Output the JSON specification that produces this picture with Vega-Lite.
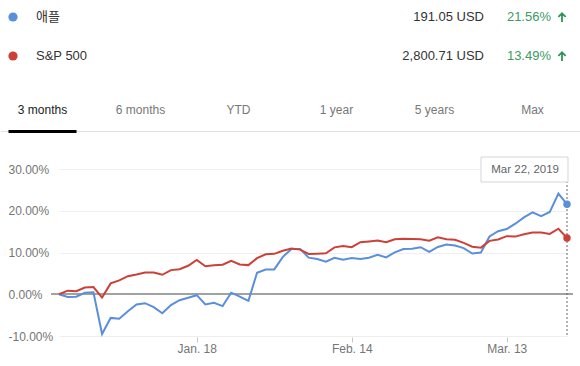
{
  "$schema": "https://vega.github.io/schema/vega-lite/v6.json",
  "background": "white",
  "padding": {"left": 0, "top": 0, "right": 0, "bottom": 0},
  "config": {"view": {"stroke": null}, "font": "Liberation Sans"},
  "spacing": 22,
  "datasets": {
    "header": [
      {"sym": "aapl", "name": "애플", "price": "191.05 USD", "change": "21.56%"},
      {"sym": "spx", "name": "S&P 500", "price": "2,800.71 USD", "change": "13.49%"}
    ],
    "tabs": [
      {"tab": "3 months", "sel": true},
      {"tab": "6 months", "sel": false},
      {"tab": "YTD", "sel": false},
      {"tab": "1 year", "sel": false},
      {"tab": "5 years", "sel": false},
      {"tab": "Max", "sel": false}
    ],
    "prices": [
      {"date": "2018-12-26", "aapl": 0, "spx": 0},
      {"date": "2018-12-27", "aapl": -0.65, "spx": 0.86},
      {"date": "2018-12-28", "aapl": -0.60, "spx": 0.73},
      {"date": "2018-12-31", "aapl": 0.36, "spx": 1.59},
      {"date": "2019-01-02", "aapl": 0.48, "spx": 1.72},
      {"date": "2019-01-03", "aapl": -9.53, "spx": -0.80},
      {"date": "2019-01-04", "aapl": -5.67, "spx": 2.60},
      {"date": "2019-01-07", "aapl": -5.88, "spx": 3.32},
      {"date": "2019-01-08", "aapl": -4.08, "spx": 4.32},
      {"date": "2019-01-09", "aapl": -2.46, "spx": 4.75},
      {"date": "2019-01-10", "aapl": -2.14, "spx": 5.23},
      {"date": "2019-01-11", "aapl": -3.10, "spx": 5.21},
      {"date": "2019-01-14", "aapl": -4.56, "spx": 4.66},
      {"date": "2019-01-15", "aapl": -2.61, "spx": 5.78},
      {"date": "2019-01-16", "aapl": -1.42, "spx": 6.01},
      {"date": "2019-01-17", "aapl": -0.83, "spx": 6.82},
      {"date": "2019-01-18", "aapl": -0.22, "spx": 8.23},
      {"date": "2019-01-22", "aapl": -2.46, "spx": 6.69},
      {"date": "2019-01-23", "aapl": -2.07, "spx": 6.93},
      {"date": "2019-01-24", "aapl": -2.84, "spx": 7.08},
      {"date": "2019-01-25", "aapl": 0.38, "spx": 7.99},
      {"date": "2019-01-28", "aapl": -0.55, "spx": 7.14},
      {"date": "2019-01-29", "aapl": -1.58, "spx": 6.98},
      {"date": "2019-01-30", "aapl": 5.14, "spx": 8.65},
      {"date": "2019-01-31", "aapl": 5.90, "spx": 9.58},
      {"date": "2019-02-01", "aapl": 5.95, "spx": 9.68},
      {"date": "2019-02-04", "aapl": 8.96, "spx": 10.42},
      {"date": "2019-02-05", "aapl": 10.82, "spx": 10.94},
      {"date": "2019-02-06", "aapl": 10.86, "spx": 10.69},
      {"date": "2019-02-07", "aapl": 8.76, "spx": 9.66},
      {"date": "2019-02-08", "aapl": 8.42, "spx": 9.73},
      {"date": "2019-02-11", "aapl": 7.80, "spx": 9.81},
      {"date": "2019-02-12", "aapl": 8.73, "spx": 11.23},
      {"date": "2019-02-13", "aapl": 8.28, "spx": 11.56},
      {"date": "2019-02-14", "aapl": 8.67, "spx": 11.27},
      {"date": "2019-02-15", "aapl": 8.43, "spx": 12.48},
      {"date": "2019-02-19", "aapl": 8.75, "spx": 12.65},
      {"date": "2019-02-20", "aapl": 9.45, "spx": 12.85},
      {"date": "2019-02-21", "aapl": 8.84, "spx": 12.45},
      {"date": "2019-02-22", "aapl": 10.05, "spx": 13.17},
      {"date": "2019-02-25", "aapl": 10.85, "spx": 13.31},
      {"date": "2019-02-26", "aapl": 10.92, "spx": 13.22},
      {"date": "2019-02-27", "aapl": 11.26, "spx": 13.16},
      {"date": "2019-02-28", "aapl": 10.17, "spx": 12.84},
      {"date": "2019-03-01", "aapl": 11.33, "spx": 13.62},
      {"date": "2019-03-04", "aapl": 11.89, "spx": 13.17},
      {"date": "2019-03-05", "aapl": 11.68, "spx": 13.05},
      {"date": "2019-03-06", "aapl": 11.04, "spx": 12.31},
      {"date": "2019-03-07", "aapl": 9.75, "spx": 11.40},
      {"date": "2019-03-08", "aapl": 10.01, "spx": 11.16},
      {"date": "2019-03-11", "aapl": 13.83, "spx": 12.79},
      {"date": "2019-03-12", "aapl": 15.10, "spx": 13.12},
      {"date": "2019-03-13", "aapl": 15.61, "spx": 13.91},
      {"date": "2019-03-14", "aapl": 16.90, "spx": 13.81},
      {"date": "2019-03-15", "aapl": 18.42, "spx": 14.38},
      {"date": "2019-03-18", "aapl": 19.63, "spx": 14.80},
      {"date": "2019-03-19", "aapl": 18.68, "spx": 14.79},
      {"date": "2019-03-20", "aapl": 19.72, "spx": 14.45},
      {"date": "2019-03-21", "aapl": 24.13, "spx": 15.69},
      {"date": "2019-03-22", "aapl": 21.56, "spx": 13.49}
    ]
  },
  "vconcat": [
    {
      "width": 530,
      "height": 133,
      "layer": [
        {
          "data": {"name": "header"},
          "layer": [
            {
              "mark": {"type": "point", "filled": true, "size": 85, "opacity": 1},
              "encoding": {
                "x": {"datum": "left", "type": "nominal", "scale": {"type": "point", "domain": ["left", "right"], "range": [-38, 511], "padding": 0}, "axis": null},
                "y": {"field": "name", "type": "nominal", "scale": {"type": "point", "domain": ["애플", "S&P 500"], "range": [17, 56], "padding": 0}, "axis": null},
                "color": {"field": "sym", "type": "nominal", "scale": {"domain": ["aapl", "spx"], "range": ["#5a8fdc", "#cc4137"]}, "legend": null}
              }
            },
            {
              "mark": {"type": "text", "align": "left", "baseline": "middle", "dx": 23, "fontSize": 13, "color": "#333333", "font": "Liberation Sans, Noto Sans CJK KR"},
              "encoding": {
                "x": {"datum": "left", "type": "nominal"},
                "y": {"field": "name", "type": "nominal"},
                "text": {"field": "name"}
              }
            },
            {
              "mark": {"type": "text", "align": "right", "baseline": "middle", "dx": -78, "fontSize": 13, "color": "#333333"},
              "encoding": {
                "x": {"datum": "right", "type": "nominal"},
                "y": {"field": "name", "type": "nominal"},
                "text": {"field": "price"}
              }
            },
            {
              "mark": {"type": "text", "align": "right", "baseline": "middle", "dx": -11, "fontSize": 13, "color": "#3b9b62"},
              "encoding": {
                "x": {"datum": "right", "type": "nominal"},
                "y": {"field": "name", "type": "nominal"},
                "text": {"field": "change"}
              }
            },
            {
              "mark": {"type": "point", "filled": true, "opacity": 1, "size": 100, "color": "#2e9458", "shape": "M0,-1L0.85,-0.15L0.6,0.1L0.18,-0.32L0.18,1L-0.18,1L-0.18,-0.32L-0.6,0.1L-0.85,-0.15Z"},
              "encoding": {
                "x": {"datum": "right", "type": "nominal"},
                "y": {"field": "name", "type": "nominal"}
              }
            }
          ]
        },
        {
          "data": {"name": "tabs"},
          "layer": [
            {
              "transform": [{"filter": "datum.sel"}],
              "mark": {"type": "rule", "color": "#e0e0e0", "strokeWidth": 1},
              "encoding": {
                "x": {"datum": "start", "type": "nominal", "scale": {"type": "point", "domain": ["start", "end"], "range": [-50, 530], "padding": 0}, "axis": null},
                "x2": {"datum": "end"},
                "y": {"datum": "line", "type": "nominal", "scale": {"type": "point", "domain": ["tabs", "line"], "range": [110, 131.5], "padding": 0}, "axis": null}
              }
            },
            {
              "layer": [
                {
                  "mark": {"type": "text", "align": "center", "baseline": "middle", "fontSize": 12},
                  "encoding": {
                    "x": {"field": "tab", "type": "nominal", "sort": null, "scale": {"type": "band", "domain": ["3 months", "6 months", "YTD", "1 year", "5 years", "Max"], "range": [-42.5, 515.5], "paddingInner": 0.306, "paddingOuter": 0}, "axis": null},
                    "y": {"datum": "tabs", "type": "nominal"},
                    "text": {"field": "tab"},
                    "color": {"condition": {"test": "datum.sel", "value": "#202124"}, "value": "#777777"}
                  }
                },
                {
                  "transform": [{"filter": "datum.sel"}],
                  "mark": {"type": "bar", "height": 3, "color": "#000000"},
                  "encoding": {
                    "x": {"field": "tab", "type": "nominal"},
                    "y": {"datum": "line", "type": "nominal"}
                  }
                }
              ]
            }
          ],
          "resolve": {"scale": {"x": "independent"}}
        }
      ],
      "resolve": {"scale": {"x": "independent", "y": "independent"}}
    },
    {
      "width": 522,
      "height": 167,
      "data": {"name": "prices"},
      "layer": [
        {
          "mark": {"type": "rule", "color": "#a3a3a3", "strokeWidth": 1},
          "encoding": {"y": {"datum": 0, "type": "quantitative"}}
        },
        {
          "transform": [{"fold": ["aapl", "spx"], "as": ["sym", "pct"]}],
          "mark": {"type": "line", "strokeWidth": 2},
          "encoding": {
            "x": {
              "field": "date", "type": "ordinal",
              "scale": {"type": "point", "range": [8, 516], "padding": 0},
              "axis": {
                "values": ["2019-01-18", "2019-02-14", "2019-03-13"],
                "labelExpr": "utcFormat(toDate(datum.value), '%b. %-d')",
                "title": null, "domain": false, "grid": false,
                "ticks": true, "tickSize": 5, "tickColor": "#c8c8c8", "offset": 1,
                "labelPadding": 1, "labelAngle": 0, "labelColor": "#757575", "labelFontSize": 12
              }
            },
            "y": {
              "field": "pct", "type": "quantitative",
              "scale": {"domain": [-10, 30], "nice": false, "zero": false},
              "axis": {
                "values": [-10, 0, 10, 20, 30],
                "labelExpr": "(datum.value < 0 ? '-' : '') + format(abs(datum.value), '.2f') + '%'",
                "title": null, "domain": false, "ticks": false, "tickSize": 0,
                "labelAlign": "left", "labelPadding": 43, "labelBaseline": "middle",
                "labelColor": "#757575", "labelFontSize": 12,
                "grid": true, "gridColor": "#efefef"
              }
            },
            "color": {"field": "sym", "type": "nominal", "scale": {"domain": ["aapl", "spx"], "range": ["#5a8fdc", "#cc4137"]}, "legend": null}
          }
        },
        {
          "transform": [{"filter": "datum.date == '2019-03-22'"}],
          "mark": {"type": "rule", "strokeDash": [2, 2], "color": "#666666", "strokeWidth": 1},
          "encoding": {"x": {"field": "date", "type": "ordinal"}}
        },
        {
          "transform": [{"filter": "datum.date == '2019-03-22'"}, {"fold": ["aapl", "spx"], "as": ["sym", "pct"]}],
          "mark": {"type": "point", "filled": true, "size": 55, "opacity": 1},
          "encoding": {
            "x": {"field": "date", "type": "ordinal"},
            "y": {"field": "pct", "type": "quantitative"},
            "color": {"field": "sym", "type": "nominal"}
          }
        },
        {
          "transform": [{"filter": "datum.date == '2019-03-22'"}],
          "mark": {"type": "point", "shape": "M-1,-0.287H1V0.287H-1Z", "size": 7569, "filled": true, "fill": "#ffffff", "stroke": "#d5d5d5", "strokeWidth": 1, "opacity": 1, "xOffset": -42.5, "yOffset": 0.5},
          "encoding": {
            "x": {"field": "date", "type": "ordinal"},
            "y": {"datum": 30, "type": "quantitative"}
          }
        },
        {
          "transform": [{"filter": "datum.date == '2019-03-22'"}],
          "mark": {"type": "text", "align": "right", "baseline": "middle", "dx": -8, "dy": 1, "fontSize": 11.5, "color": "#5f6368"},
          "encoding": {
            "x": {"field": "date", "type": "ordinal"},
            "y": {"datum": 30, "type": "quantitative"},
            "text": {"value": "Mar 22, 2019"}
          }
        }
      ]
    }
  ]
}
